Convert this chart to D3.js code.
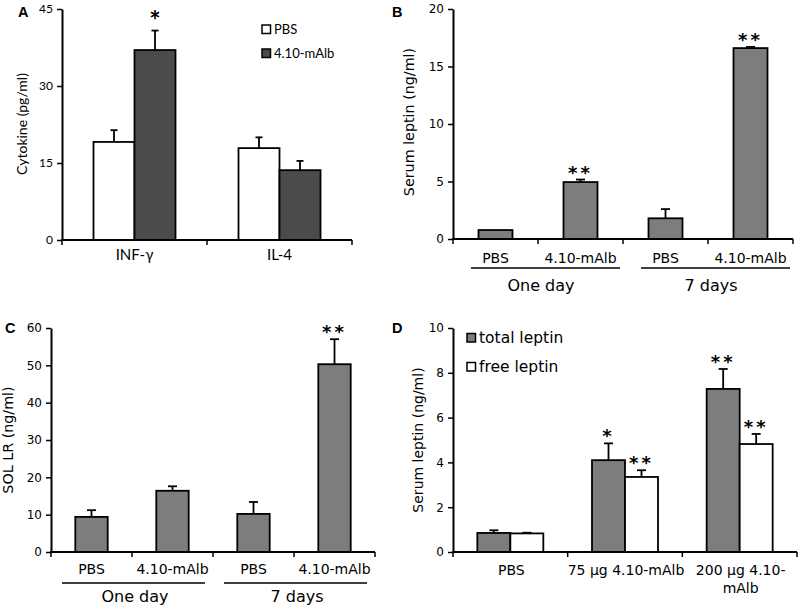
<!DOCTYPE html>
<html><head><meta charset="utf-8">
<script src="https://cdn.jsdelivr.net/npm/d3@7"></script>
<style>body{margin:0;background:#fff}svg{display:block}</style>
</head><body><svg id="c" width="798" height="608"></svg>
<script>
// ---------- Panel A ----------
const catsA = ["INF-γ", "IL-4"];
const seriesA = ["PBS", "4.10-mAlb"];
const pbsA = [19.1, 17.9];
const pbsAErr = [2.3, 2.1];
const malbA = [37.0, 13.6];
const malbAErr = [3.8, 1.8];
const sigMalbA = ["*", ""];
const ticksA = [0, 15, 30, 45];
// ---------- Panel B ----------
const catsB = ["PBS", "4.10-mAlb", "PBS", "4.10-mAlb"];
const groupsB = ["One day", "7 days"];
const valsB = [0.78, 4.95, 1.8, 16.6];
const errB = [0, 0.22, 0.8, 0.1];
const sigB = ["", "**", "", "**"];
const ticksB = [0, 5, 10, 15, 20];
// ---------- Panel C ----------
const catsC = ["PBS", "4.10-mAlb", "PBS", "4.10-mAlb"];
const groupsC = ["One day", "7 days"];
const valsC = [9.4, 16.4, 10.2, 50.3];
const errC = [1.8, 1.2, 3.2, 6.7];
const sigC = ["", "", "", "**"];
const ticksC = [0, 10, 20, 30, 40, 50, 60];
// ---------- Panel D ----------
const catsD = [["PBS"], ["75 µg 4.10-mAlb"], ["200 µg 4.10-", "mAlb"]];
const seriesD = ["total leptin", "free leptin"];
const totalD = [0.85, 4.1, 7.28];
const totalDErr = [0.12, 0.75, 0.89];
const freeD = [0.83, 3.35, 4.82];
const freeDErr = [0.03, 0.3, 0.45];
const sigTotalD = ["", "*", "**"];
const sigFreeD = ["", "**", "**"];
const ticksD = [0, 2, 4, 6, 8, 10];

const svg = d3.select("#c");
const VER = "'DejaVu Sans', Verdana, sans-serif";
const CAL = "Lato, 'Open Sans', sans-serif";
const GRAY = "#7d7d7d", DARK = "#4b4b4b";

function yAxis(g, y, x0, ticks, font, size) {
  const ax = d3.axisLeft(y).tickValues(ticks).tickSize(5).tickSizeOuter(0).tickPadding(4);
  const a = g.append("g").attr("transform", `translate(${x0},0)`).call(ax);
  a.select(".domain").attr("stroke", "#000").attr("stroke-width", 2);
  a.selectAll(".tick line").attr("stroke", "#000").attr("stroke-width", 1.5);
  a.selectAll(".tick text").attr("font-family", font).attr("font-size", size).attr("fill", "#000");
}
function xAxis(g, x, y0, n) {
  const [a, b] = x.range();
  g.append("line").attr("x1", a - 1).attr("x2", b).attr("y1", y0).attr("y2", y0)
    .attr("stroke", "#000").attr("stroke-width", 2);
  const bounds = d3.range(n + 1).map(i => i < n ? x(i) : x(n - 1) + x.bandwidth());
  g.selectAll(null).data(bounds).join("line")
    .attr("x1", d => d).attr("x2", d => d).attr("y1", y0).attr("y2", y0 + 5)
    .attr("stroke", "#000").attr("stroke-width", 1.5);
}
function bar(g, x0, w, y, v, err, fill, sig, sigFont, sigSize, sigSpacing, capW) {
  const yb = y(0);
  g.append("rect").attr("x", x0).attr("y", y(v)).attr("width", w).attr("height", yb - y(v))
    .attr("fill", fill).attr("stroke", "#000").attr("stroke-width", 1.8);
  const cx = x0 + w / 2;
  if (err > 0) {
    g.append("line").attr("x1", cx).attr("x2", cx).attr("y1", y(v)).attr("y2", y(v + err))
      .attr("stroke", "#000").attr("stroke-width", 1.8);
    g.append("line").attr("x1", cx - capW / 2).attr("x2", cx + capW / 2).attr("y1", y(v + err)).attr("y2", y(v + err))
      .attr("stroke", "#000").attr("stroke-width", 1.8);
  }
  if (sig) {
    g.append("text").attr("x", cx).attr("y", y(v + err) - 1).attr("text-anchor", "middle")
      .attr("font-family", sigFont).attr("font-size", sigSize).attr("font-weight", "bold")
      .attr("letter-spacing", sigSpacing).text(sig);
  }
}
function panelLabel(t, x, y) {
  svg.append("text").attr("x", x).attr("y", y).attr("font-family", "'Liberation Sans', Arial, sans-serif")
    .attr("font-weight", "bold").attr("font-size", 14.5).text(t);
}
function yTitle(t, x, y, font, size) {
  svg.append("text").attr("transform", `translate(${x},${y}) rotate(-90)`).attr("text-anchor", "middle")
    .attr("font-family", font).attr("font-size", size).text(t);
}

// ================= Panel A =================
{
  const g = svg.append("g");
  const y = d3.scaleLinear().domain([0, 45]).range([240, 9]);
  const x = d3.scaleBand().domain(d3.range(catsA.length)).range([62, 352]);
  const bw = 41;
  catsA.forEach((c, i) => {
    const cx = x(i) + x.bandwidth() / 2;
    bar(g, cx - bw, bw, y, pbsA[i], pbsAErr[i], "#fff", "", CAL, 24, 0, 7);
    bar(g, cx, bw, y, malbA[i], malbAErr[i], DARK, sigMalbA[i], CAL, 27, 0, 7);
    g.append("text").attr("x", cx).attr("y", 260).attr("text-anchor", "middle")
      .attr("font-family", CAL).attr("font-size", 15).text(c);
  });
  xAxis(g, x, 240, catsA.length);
  yAxis(g, y, 62, ticksA, CAL, 12);
  const lg = [{n: seriesA[0], f: "#fff"}, {n: seriesA[1], f: DARK}];
  lg.forEach((d, i) => {
    g.append("rect").attr("x", 262).attr("y", 25 + i * 24).attr("width", 8.5).attr("height", 8.5)
      .attr("fill", d.f).attr("stroke", "#000").attr("stroke-width", 1.5);
    g.append("text").attr("x", 274).attr("y", 33.5 + i * 24).attr("font-family", CAL).attr("font-size", 13).text(d.n);
  });
  yTitle("Cytokine (pg/ml)", 27, 124, CAL, 14);
  panelLabel("A", 18, 17);
}

// ================= Panel B / C =================
function groupedPanel(cats, groups, vals, errs, sigs, ticks, dom, yr, xr, lab, inL, inR, title, titleX, titleY) {
  const g = svg.append("g");
  const y = d3.scaleLinear().domain(dom).range(yr);
  const x = d3.scaleBand().domain(d3.range(cats.length)).range(xr);
  const bw = x.bandwidth() * 0.4;
  const y0 = yr[0];
  cats.forEach((c, i) => {
    const cx = x(i) + x.bandwidth() / 2;
    bar(g, cx - bw / 2, bw, y, vals[i], errs[i], GRAY, sigs[i], VER, 18, 3, 9);
    g.append("text").attr("x", cx).attr("y", y0 + lab[0]).attr("text-anchor", "middle")
      .attr("font-family", VER).attr("font-size", 14).text(c);
  });
  groups.forEach((gr, j) => {
    const a = x(j * 2), b = x(j * 2 + 1) + x.bandwidth();
    g.append("line").attr("x1", a + inL).attr("x2", b - inR).attr("y1", y0 + lab[1]).attr("y2", y0 + lab[1])
      .attr("stroke", "#000").attr("stroke-width", 1.5);
    g.append("text").attr("x", (a + b) / 2 + 3).attr("y", y0 + lab[2]).attr("text-anchor", "middle")
      .attr("font-family", VER).attr("font-size", 16).text(gr);
  });
  xAxis(g, x, y0, cats.length);
  yAxis(g, y, xr[0], ticks, VER, 12);
  yTitle(title, titleX, titleY, VER, 14.3);
}
groupedPanel(catsB, groupsB, valsB, errB, sigB, ticksB, [0, 20], [239, 9], [453, 793], [24, 29, 52], 18, 3,
  "Serum leptin (ng/ml)", 414, 122);
panelLabel("B", 392, 17);
groupedPanel(catsC, groupsC, valsC, errC, sigC, ticksC, [0, 60], [552, 328], [51, 375], [22, 31, 50], 11, 8,
  "SOL LR (ng/ml)", 13, 440);
panelLabel("C", 5, 333);

// ================= Panel D =================
{
  const g = svg.append("g");
  const y = d3.scaleLinear().domain([0, 10]).range([552, 328]);
  const x = d3.scaleBand().domain(d3.range(catsD.length)).range([453, 797]);
  const bw = 33;
  catsD.forEach((lines, i) => {
    const cx = x(i) + x.bandwidth() / 2;
    bar(g, cx - bw, bw, y, totalD[i], totalDErr[i], GRAY, sigTotalD[i], VER, 18, 3, 9);
    bar(g, cx, bw, y, freeD[i], freeDErr[i], "#fff", sigFreeD[i], VER, 18, 3, 9);
    lines.forEach((t, k) => {
      g.append("text").attr("x", cx + 1).attr("y", 575 + k * 18).attr("text-anchor", "middle")
        .attr("font-family", VER).attr("font-size", 14).text(t);
    });
  });
  xAxis(g, x, 552, catsD.length);
  yAxis(g, y, 453, ticksD, VER, 12);
  const lg = [{n: seriesD[0], f: GRAY}, {n: seriesD[1], f: "#fff"}];
  lg.forEach((d, i) => {
    g.append("rect").attr("x", 467).attr("y", 333.5 + i * 29).attr("width", 8.5).attr("height", 8.5)
      .attr("fill", d.f).attr("stroke", "#000").attr("stroke-width", 1.5);
    g.append("text").attr("x", 479).attr("y", 343 + i * 29).attr("font-family", VER).attr("font-size", 15.5).text(d.n);
  });
  yTitle("Serum leptin (ng/ml)", 423, 440, VER, 14);
  panelLabel("D", 392, 333);
}
</script></body></html>
